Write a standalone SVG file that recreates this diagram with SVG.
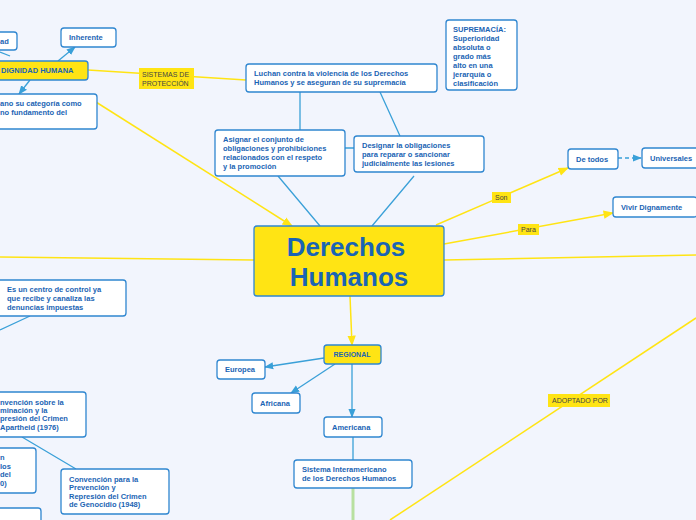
<svg xmlns="http://www.w3.org/2000/svg" width="696" height="520" viewBox="0 0 696 520">
<style>
.n{fill:#fff;stroke:#2f86d0;stroke-width:1.3}
.y{fill:#ffe414;stroke:#2f86d0;stroke-width:1.3}
.l{fill:#ffe414}
text{font-family:"Liberation Sans",Arial,sans-serif;font-weight:bold;font-size:7.5px;fill:#1a64b4}
.lt{font-weight:normal;fill:#444;font-size:7px}
.b{stroke:#3aa0d8;stroke-width:1.3;fill:none}
.g{stroke:#ffe414;stroke-width:1.5;fill:none}
</style>
<defs>
<marker id="ab" viewBox="0 0 10 10" refX="9" refY="5" markerWidth="7" markerHeight="7" orient="auto"><path d="M0,1L10,5L0,9z" fill="#3aa0d8"/></marker>
<marker id="ay" viewBox="0 0 10 10" refX="9" refY="5" markerWidth="7" markerHeight="7" orient="auto"><path d="M0,1L10,5L0,9z" fill="#ffe414"/></marker>
</defs>
<rect width="696" height="520" fill="#f2f5fd"/>
<g id="connectors">
<path class="g" d="M0,257L254,260"/>
<path class="g" d="M444,260L696,255"/>
<path class="g" d="M88,97L292,226" marker-end="url(#ay)"/>
<path class="g" d="M88,70L246,80"/>
<path class="g" d="M436,225L568,168" marker-end="url(#ay)"/>
<path class="g" d="M444,244L613,213" marker-end="url(#ay)"/>
<path class="g" d="M350,296L352,345" marker-end="url(#ay)"/>
<path class="g" d="M390,520L696,318"/>
<path d="M353,488V520" stroke="#b8e0a0" stroke-width="3"/>
<path class="b" d="M300,92L300,130M380,92L400,136M278,176L320,226M414,176L372,226M345,148L354,148M353,437V460M22,437L76,469M30,316L0,330"/>
<path class="b" d="M618,158L641,158" stroke-dasharray="4,3" marker-end="url(#ab)"/>
<path class="b" d="M324,358L265,367" marker-end="url(#ab)"/>
<path class="b" d="M335,364L291,393" marker-end="url(#ab)"/>
<path class="b" d="M352,364V417" marker-end="url(#ab)"/>
<path class="b" d="M58,61L75,47" marker-end="url(#ab)"/>
<path class="b" d="M10,56L0,52"/>
<path class="b" d="M30,80L19,94" marker-end="url(#ab)"/>
</g>
<g id="ad"><rect class="n" x="-10" y="32" width="27" height="18" rx="3"/><text x="0" y="44">ad</text></g>
<g id="inherente"><rect class="n" x="61" y="28" width="55" height="19" rx="3"/><text x="69" y="40">Inherente</text></g>
<g id="dignidad"><rect class="y" x="-5" y="61" width="93" height="19" rx="3"/><text x="1" y="73">DIGNIDAD HUMANA</text></g>
<g id="ano"><rect class="n" x="-5" y="94" width="102" height="35" rx="3"/><text x="0" y="106">ano su categoría como</text><text x="0" y="115">no fundamento del</text></g>
<g id="sistemas"><rect class="l" x="139" y="68" width="55" height="21"/><text class="lt" x="142" y="77">SISTEMAS DE</text><text class="lt" x="142" y="86">PROTECCIÓN</text></g>
<g id="luchan"><rect class="n" x="246" y="64" width="191" height="28" rx="3"/><text x="254" y="76">Luchan contra la violencia de los Derechos</text><text x="254" y="85">Humanos y se aseguran de su supremacía</text></g>
<g id="supremacia"><rect class="n" x="446" y="20" width="71" height="70" rx="3"/><text x="453" y="32">SUPREMACÍA:</text><text x="453" y="41">Superioridad</text><text x="453" y="50">absoluta o</text><text x="453" y="59">grado más</text><text x="453" y="68">alto en una</text><text x="453" y="77">jerarquía o</text><text x="453" y="86">clasificación</text></g>
<g id="asignar"><rect class="n" x="215" y="130" width="130" height="46" rx="3"/><text x="223" y="142">Asignar el conjunto de</text><text x="223" y="151">obligaciones y prohibiciones</text><text x="223" y="160">relacionados con el respeto</text><text x="223" y="169">y la promoción</text></g>
<g id="designar"><rect class="n" x="354" y="136" width="130" height="36" rx="3"/><text x="362" y="148">Designar la obligaciones</text><text x="362" y="157">para reparar o sancionar</text><text x="362" y="166">judicialmente las lesiones</text></g>
<g id="central"><rect x="254" y="226" width="190" height="70" rx="3" fill="#ffe414" stroke="#2f86d0" stroke-width="1.3"/><text x="346" y="256" text-anchor="middle" style="font-size:26px">Derechos </text><text x="349" y="286" text-anchor="middle" style="font-size:26px">Humanos</text></g>
<g id="son"><rect class="l" x="492" y="192" width="19" height="11"/><text class="lt" x="495" y="200">Son</text></g>
<g id="para"><rect class="l" x="518" y="224" width="21" height="11"/><text class="lt" x="521" y="232">Para</text></g>
<g id="detodos"><rect class="n" x="568" y="149" width="50" height="20" rx="3"/><text x="576" y="162">De todos</text></g>
<g id="universales"><rect class="n" x="642" y="148" width="58" height="20" rx="3"/><text x="650" y="161">Universales</text></g>
<g id="vivir"><rect class="n" x="613" y="197" width="84" height="20" rx="3"/><text x="621" y="210">Vivir Dignamente</text></g>
<g id="centro"><rect class="n" x="-5" y="280" width="131" height="36" rx="3"/><text x="7" y="292">Es un centro de control ya</text><text x="7" y="301">que recibe y canaliza las</text><text x="7" y="310">denuncias impuestas</text></g>
<g id="regional"><rect class="y" x="324" y="345" width="57" height="19" rx="3"/><text x="352" y="357" text-anchor="middle" style="font-size:7px">REGIONAL</text></g>
<g id="europea"><rect class="n" x="217" y="360" width="48" height="19" rx="3"/><text x="225" y="372">Europea</text></g>
<g id="africana"><rect class="n" x="252" y="393" width="48" height="20" rx="3"/><text x="260" y="406">Africana</text></g>
<g id="americana"><rect class="n" x="324" y="417" width="58" height="20" rx="3"/><text x="332" y="430">Americana</text></g>
<g id="sistemaint"><rect class="n" x="294" y="460" width="118" height="28" rx="3"/><text x="302" y="472">Sistema Interamericano</text><text x="302" y="481">de los Derechos Humanos</text></g>
<g id="adoptado"><rect class="l" x="548" y="394" width="62" height="13"/><text class="lt" x="552" y="403">ADOPTADO POR</text></g>
<g id="apartheid"><rect class="n" x="-5" y="392" width="91" height="45" rx="3"/><text x="0" y="405">nvención sobre la</text><text x="0" y="413">minación y la</text><text x="0" y="421">presión del Crimen</text><text x="0" y="430">Apartheid (1976)</text></g>
<g id="otro"><rect class="n" x="-5" y="448" width="41" height="45" rx="3"/><text x="0" y="460">n</text><text x="0" y="469">los</text><text x="0" y="477">del</text><text x="0" y="486">0)</text></g>
<g id="genocidio"><rect class="n" x="61" y="469" width="108" height="45" rx="3"/><text x="69" y="482">Convención para la</text><text x="69" y="490">Prevención y</text><text x="69" y="499">Represión del Crimen</text><text x="69" y="507">de Genocidio (1948)</text></g>
<g id="bottom"><rect class="n" x="-5" y="508" width="46" height="20" rx="3"/></g>
</svg>
